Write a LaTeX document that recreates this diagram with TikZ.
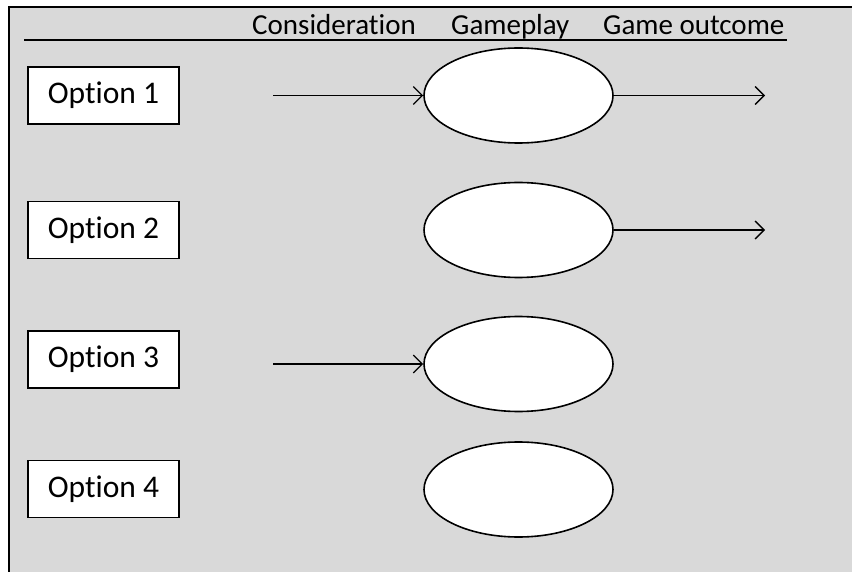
\documentclass[tikz,border=0pt]{standalone}
\usepackage{fontspec}
\setmainfont{Carlito}[Ligatures=NoCommon]
\usetikzlibrary{shapes.geometric,arrows.meta}
\tikzset{
  optbox/.style={draw=black, line width=1.3pt, fill=white, minimum width=151pt, minimum height=57pt, inner sep=0pt, font=\fontsize{31.5}{38}\selectfont},
  oval/.style={ellipse, draw=black, line width=1.6pt, fill=white, minimum width=189pt, minimum height=95pt, inner sep=0pt},
  head/.style={anchor=base west, inner sep=0pt, font=\fontsize{29}{35}\selectfont},
  conn/.style={line width=1.3pt, -{Straight Barb[length=9pt, width=18pt, line width=1.3pt]}}
}
\begin{document}
\begin{tikzpicture}[x=1pt,y=-1pt]
\useasboundingbox (0,0) rectangle (852,572);
\fill[white] (0,0) rectangle (852,572);
\fill[fill={rgb,255:red,217;green,217;blue,217}] (9,7) rectangle (852,572);
\draw[line width=2.2pt] (852,7) -- (9,7) -- (9,572);
% header
\node[head] (h1) at (252,35) {Consideration};
\node[head] (h2) at (451,35) {Gameplay};
\node[head] (h3) at (603,35) {Game outcome};
\coordinate (ul1) at (24,40);
\coordinate (ul2) at (787,40);
\draw[line width=1.6pt] (ul1) -- (ul2);
% options
\node[optbox] (o1) at (103.5,95.5) {Option 1};
\node[optbox] (o2) at (103.5,230) {Option 2};
\node[optbox] (o3) at (103.5,359.5) {Option 3};
\node[optbox] (o4) at (103.5,489) {Option 4};
% ellipses
\node[oval] (e1) at (518.5,95.5) {};
\node[oval] (e2) at (518.5,230) {};
\node[oval] (e3) at (518.5,364) {};
\node[oval] (e4) at (518.5,489.5) {};
% connector free ends
\coordinate (s1) at (273,95.5);
\coordinate (s3) at (273,364);
\coordinate (t1) at (765,95.5);
\coordinate (t2) at (765,230);
\draw[conn] (s1) -- (e1.west);
\draw[conn] (s3) -- (e3.west);
\draw[conn] (e1.east) -- (t1);
\draw[conn] (e2.east) -- (t2);
\end{tikzpicture}
\end{document}
